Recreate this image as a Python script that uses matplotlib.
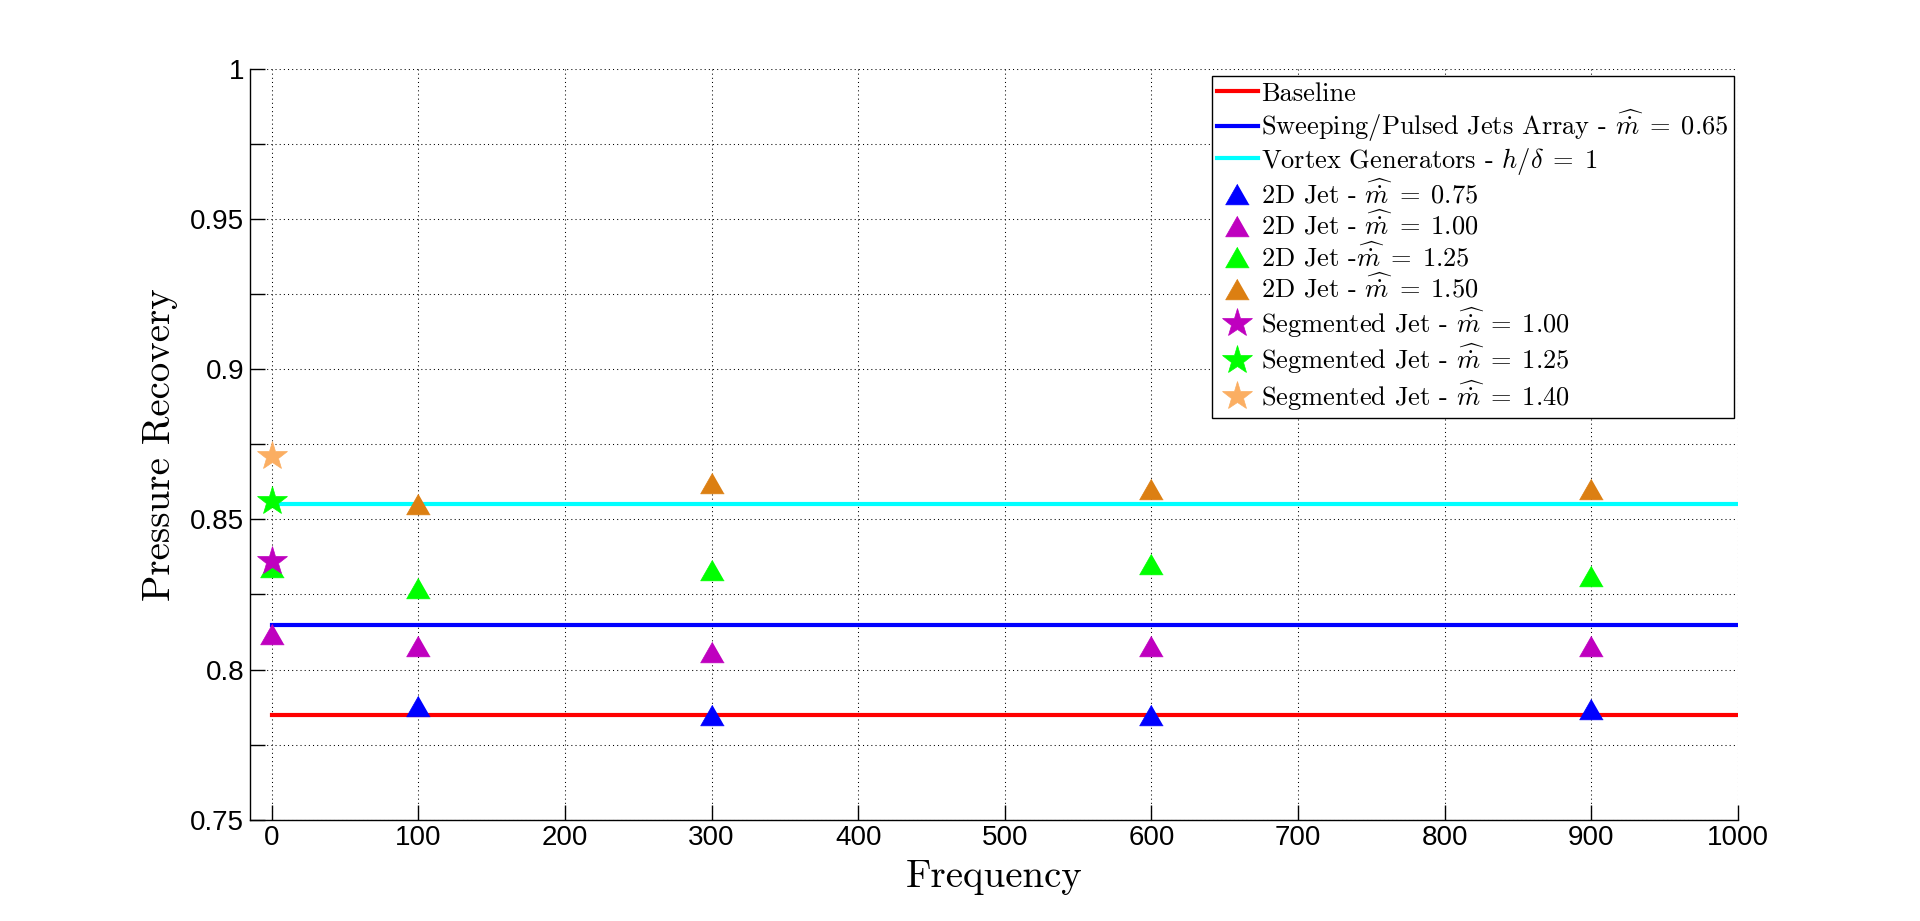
import matplotlib
matplotlib.use("Agg")
import matplotlib.pyplot as plt
from matplotlib.font_manager import FontProperties

# ---------------- data ----------------
line_x = [0, 1000]
baseline_val = 0.785
sweeping_val = 0.815
vortex_val = 0.855

jet075_x = [100, 300, 600, 900]
jet075_y = [0.788, 0.785, 0.785, 0.787]

jet100_x = [0, 100, 300, 600, 900]
jet100_y = [0.812, 0.808, 0.806, 0.808, 0.808]

jet125_x = [0, 100, 300, 600, 900]
jet125_y = [0.834, 0.827, 0.833, 0.835, 0.831]

jet150_x = [100, 300, 600, 900]
jet150_y = [0.855, 0.862, 0.860, 0.860]

seg100_x = [0]
seg100_y = [0.836]
seg125_x = [0]
seg125_y = [0.856]
seg140_x = [0]
seg140_y = [0.871]

x_ticks = [0, 100, 200, 300, 400, 500, 600, 700, 800, 900, 1000]
y_ticks = [0.75, 0.775, 0.8, 0.825, 0.85, 0.875, 0.9, 0.925, 0.95, 0.975, 1.0]
y_tick_labels = ['0.75', '', '0.8', '', '0.85', '', '0.9', '', '0.95', '', '1']

labels = [
    'Baseline',
    r'Sweeping/Pulsed Jets Array - $\widehat{\dot{m}}\;=\;0.65$',
    r'Vortex Generators - $h/\delta\;=\;1$',
    r'2D Jet - $\widehat{\dot{m}}\;=\;0.75$',
    r'2D Jet - $\widehat{\dot{m}}\;=\;1.00$',
    r'2D Jet -$\widehat{\dot{m}}\;=\;1.25$',
    r'2D Jet - $\widehat{\dot{m}}\;=\;1.50$',
    r'Segmented Jet - $\widehat{\dot{m}}\;=\;1.00$',
    r'Segmented Jet - $\widehat{\dot{m}}\;=\;1.25$',
    r'Segmented Jet - $\widehat{\dot{m}}\;=\;1.40$',
]

# ---------------- style ----------------
plt.rcParams['mathtext.fontset'] = 'cm'
plt.rcParams['axes.unicode_minus'] = False

fig = plt.figure(figsize=(19.2, 9.21), dpi=100)
ax = fig.add_axes([0.13, 0.11, 0.7752, 0.8151])

c_orange = '#DC7F12'
c_lorange = '#FBAE62'
c_mag = '#BF00BF'
c_green = '#00FF00'
tri = [(0, 0.875), (-1, -0.875), (1, -0.875)]
tri_ms = 17
star_ms = 22

ax.plot(line_x, [baseline_val] * 2, color='#FF0000', lw=3, label=labels[0], zorder=3)
ax.plot(line_x, [sweeping_val] * 2, color='#0000FF', lw=3, label=labels[1], zorder=3)
ax.plot(line_x, [vortex_val] * 2, color='#00FFFF', lw=3, label=labels[2], zorder=3)

def mk(x, y, color, marker, ms, label):
    ax.plot(x, y, linestyle='none', marker=marker, ms=ms, color=color,
            markeredgecolor=color, markeredgewidth=0.5, label=label, zorder=4)

mk(jet075_x, jet075_y, '#0000FF', tri, tri_ms, labels[3])
mk(jet100_x, jet100_y, c_mag, tri, tri_ms, labels[4])
mk(jet125_x, jet125_y, c_green, tri, tri_ms, labels[5])
mk(jet150_x, jet150_y, c_orange, tri, tri_ms, labels[6])
mk(seg100_x, seg100_y, c_mag, '*', star_ms, labels[7])
mk(seg125_x, seg125_y, c_green, '*', star_ms, labels[8])
mk(seg140_x, seg140_y, c_lorange, '*', star_ms, labels[9])

ax.set_xlim(-15, 1000)
ax.set_ylim(0.75, 1.0)
ax.set_xticks(x_ticks)
ax.set_xticklabels([str(v) for v in x_ticks])
ax.set_yticks(y_ticks)
ax.set_yticklabels(y_tick_labels)

for s in ['top', 'right']:
    ax.spines[s].set_visible(False)
for s in ['left', 'bottom']:
    ax.spines[s].set_linewidth(1.0)
    ax.spines[s].set_color('black')

ax.tick_params(direction='in', length=11, width=1.0, colors='black',
               labelsize=20, pad=4)
for lab in ax.get_xticklabels() + ax.get_yticklabels():
    lab.set_fontfamily('Liberation Sans')

ax.grid(True, color='black', linestyle=(0, (1, 3)), linewidth=0.75, zorder=0)
ax.set_axisbelow(True)

ax.set_xlabel('Frequency', fontsize=28, family='cmr10')
ax.set_ylabel('Pressure Recovery', fontsize=28, family='cmr10')
ax.xaxis.set_label_coords(0.5, -0.052)
ax.yaxis.set_label_coords(-0.048, 0.5)

leg = ax.legend(loc='upper right', bbox_to_anchor=(0.997, 0.99),
                prop=FontProperties(family='cmr10', size=19),
                frameon=True, fancybox=False, shadow=False, framealpha=1,
                edgecolor='black', borderaxespad=0, handlelength=1.53,
                handletextpad=0.12, labelspacing=0.06, borderpad=0.2)
leg.get_frame().set_linewidth(1.0)

fig.savefig('out.png', dpi=100)
